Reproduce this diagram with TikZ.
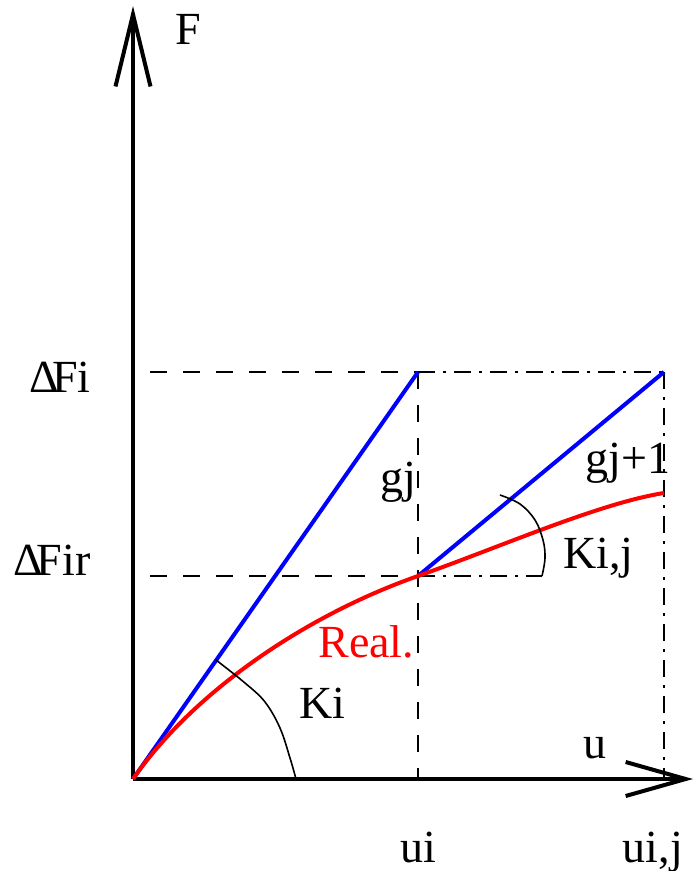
\documentclass[tikz,border=0pt]{standalone}
\usepackage{fontspec}
\setmainfont{Liberation Serif}
\usepackage{tikz}
\usetikzlibrary{arrows.meta}
\definecolor{figBlue}{RGB}{0,0,255}
\definecolor{figRed}{RGB}{255,0,0}
\begin{document}
\begin{tikzpicture}[x=0.5pt, y=-0.5pt,
  axis/.style={line width=2pt},
  grid dash/.style={line width=0.8pt, dash pattern=on 8.5pt off 8pt},
  grid dot/.style={line width=0.8pt, dash pattern=on 8.5pt off 4pt on 1.5pt off 4pt},
  lbl/.style={font=\fontsize{23}{27}\selectfont, inner sep=0pt}]
\useasboundingbox (0,0) rectangle (695,871);
% points
\coordinate (O) at (133,779);
\coordinate (ytip) at (133,6);
\coordinate (xtip) at (693,779);
\coordinate (Pi) at (418,372);
\coordinate (Q) at (418,576);
\coordinate (Pij) at (664,372);
\coordinate (Rend) at (664,493);
\coordinate (ui) at (418,779);
\coordinate (uij) at (664,779);
\coordinate (dFi) at (150,372);
\coordinate (dFir) at (150,576);
\coordinate (arcEnd) at (542,576);
% axes
\draw[axis, -{Straight Barb[length=36pt, width=17.5pt]}] (O) -- (ytip);
\draw[axis, -{Straight Barb[length=30pt, width=17pt]}] (O) -- (xtip);
% helper lines
\draw[grid dash] (dFi) -- (Pi);
\draw[grid dot] (Pi) -- (Pij);
\draw[grid dash] (dFir) -- (Q);
\draw[grid dot] (Q) -- (arcEnd);
\draw[grid dash] (Pi) -- (ui);
\draw[grid dot] (Pij) -- (uij);
% secant lines
\draw[figBlue, line width=2pt] (O) -- (Pi);
\draw[figBlue, line width=2pt] (Q) -- (Pij);
% real curve
\draw[figRed, line width=2pt] (O) .. controls (195,690) and (308,614.5) .. (Q)
  .. controls (500,547) and (600,503) .. (Rend);
% angles
\draw[line width=0.8pt] plot[smooth, tension=0.6] coordinates {(216,660) (245,683) (265,702) (280,728) (290,758) (296,779)};
\draw[line width=0.8pt] plot[smooth, tension=0.6] coordinates {(500,495) (520,504) (535,520) (543,540) (545,558) (arcEnd)};
% labels
\node[lbl, anchor=base west] (lF) at (175,45) {F};
\node[lbl, anchor=base east] (lFi) at (91,392) {Δ\kern-.14em Fi};
\node[lbl, anchor=base east] (lFir) at (91,575) {Δ\kern-.14em Fir};
\node[lbl, anchor=base west] (lgj) at (380,492) {gj};
\node[lbl, anchor=base west] (lgj1) at (585,473) {gj+1};
\node[lbl, anchor=base west] (lKij) at (563,568) {Ki,j};
\node[lbl, anchor=base west] (lKi) at (299,718) {Ki};
\node[lbl, anchor=base west, text=figRed] (lReal) at (318,657) {Real.};
\node[lbl, anchor=base west] (lu) at (583,758) {u};
\node[lbl, anchor=base] (lui) at (418,862) {ui};
\node[lbl, anchor=base] (luij) at (653,862) {ui,j};
\end{tikzpicture}
\end{document}
